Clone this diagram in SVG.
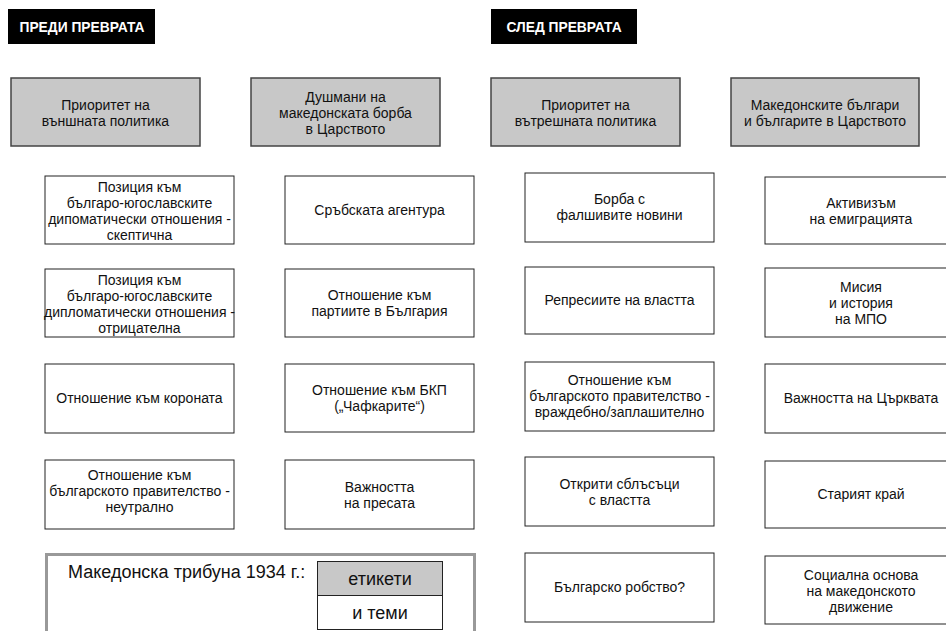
<svg xmlns="http://www.w3.org/2000/svg" width="946" height="631" viewBox="0 0 946 631">
<style>
text{font-family:"Liberation Sans",Arial,sans-serif;fill:#111;text-anchor:middle}
.hd rect{fill:#000}
.hd text{fill:#fff;font-weight:bold;font-size:13.8px}
.cat rect{fill:#c8c8c8;stroke:#444;stroke-width:1.5}
.cat text{font-size:14px}
.item rect{fill:#fff;stroke:#222;stroke-width:1}
.item text{font-size:14px}
.leg{font-size:18px}
</style>
<rect width="946" height="631" fill="#fff"/>
<g id="hdr-before" class="hd"><rect x="8" y="9" width="147" height="35"/><text x="82" y="32">ПРЕДИ ПРЕВРАТА</text></g>
<g id="hdr-after" class="hd"><rect x="491" y="9" width="146" height="35"/><text x="564" y="32">СЛЕД ПРЕВРАТА</text></g>

<g id="cat-foreign" class="cat"><rect x="11" y="78" width="189" height="68"/><text x="105.5" y="110">Приоритет на</text><text x="105.5" y="126">външната политика</text></g>
<g id="cat-enemies" class="cat"><rect x="251" y="78" width="189" height="68"/><text x="345.5" y="102">Душмани на</text><text x="345.5" y="118">македонската борба</text><text x="345.5" y="134">в Царството</text></g>
<g id="cat-domestic" class="cat"><rect x="491" y="78" width="189" height="68"/><text x="585.5" y="110">Приоритет на</text><text x="585.5" y="126">вътрешната политика</text></g>
<g id="cat-bulgarians" class="cat"><rect x="731" y="78" width="188" height="68"/><text x="825" y="110">Македонските българи</text><text x="825" y="126">и българите в Царството</text></g>

<g id="c1-1" class="item"><rect x="45" y="176" width="189" height="68"/><text x="139.5" y="192">Позиция към</text><text x="139.5" y="208">българо-югославските</text><text x="139.5" y="224">дипоматически отношения -</text><text x="139.5" y="240">скептична</text></g>
<g id="c1-2" class="item"><rect x="45" y="269" width="189" height="68"/><text x="139.5" y="285">Позиция към</text><text x="139.5" y="301">българо-югославските</text><text x="139.5" y="317">дипломатически отношения -</text><text x="139.5" y="333">отрицателна</text></g>
<g id="c1-3" class="item"><rect x="45" y="364" width="189" height="69"/><text x="139.5" y="403">Отношение към короната</text></g>
<g id="c1-4" class="item"><rect x="45" y="460" width="189" height="69"/><text x="139.5" y="480">Отношение към</text><text x="139.5" y="496">българското правителство -</text><text x="139.5" y="512">неутрално</text></g>

<g id="c2-1" class="item"><rect x="285" y="176" width="189" height="68"/><text x="379.5" y="215">Сръбската агентура</text></g>
<g id="c2-2" class="item"><rect x="285" y="269" width="189" height="68"/><text x="379.5" y="300">Отношение към</text><text x="379.5" y="316">партиите в България</text></g>
<g id="c2-3" class="item"><rect x="285" y="364" width="189" height="68"/><text x="379.5" y="395">Отношение към БКП</text><text x="379.5" y="411">(„Чафкарите“)</text></g>
<g id="c2-4" class="item"><rect x="285" y="460" width="189" height="69"/><text x="379.5" y="492">Важността</text><text x="379.5" y="508">на пресата</text></g>

<g id="c3-1" class="item"><rect x="525" y="173" width="189" height="69"/><text x="619.5" y="204">Борба с</text><text x="619.5" y="220">фалшивите новини</text></g>
<g id="c3-2" class="item"><rect x="525" y="267" width="189" height="67"/><text x="619.5" y="305">Репресиите на властта</text></g>
<g id="c3-3" class="item"><rect x="525" y="362" width="189" height="69"/><text x="619.5" y="385">Отношение към</text><text x="619.5" y="401">българското правителство -</text><text x="619.5" y="417">враждебно/заплашително</text></g>
<g id="c3-4" class="item"><rect x="525" y="457" width="189" height="69"/><text x="619.5" y="489">Открити сблъсъци</text><text x="619.5" y="505">с властта</text></g>
<g id="c3-5" class="item"><rect x="525" y="553" width="189" height="69"/><text x="619.5" y="592">Българско робство?</text></g>

<g id="c4-1" class="item"><rect x="765" y="177" width="189" height="67"/><text x="861" y="208">Активизъм</text><text x="861" y="224">на емиграцията</text></g>
<g id="c4-2" class="item"><rect x="765" y="268" width="189" height="69"/><text x="861" y="292">Мисия</text><text x="861" y="308">и история</text><text x="861" y="324">на МПО</text></g>
<g id="c4-3" class="item"><rect x="765" y="364" width="189" height="69"/><text x="861" y="403">Важността на Църквата</text></g>
<g id="c4-4" class="item"><rect x="765" y="461" width="189" height="67"/><text x="861" y="499">Старият край</text></g>
<g id="c4-5" class="item"><rect x="765" y="556" width="189" height="68"/><text x="861" y="580">Социална основа</text><text x="861" y="596">на македонското</text><text x="861" y="612">движение</text></g>

<g id="legend">
<rect x="46.5" y="554.5" width="428" height="90" fill="#fff" stroke="#999" stroke-width="3"/>
<text class="leg" x="68" y="578" style="text-anchor:start">Македонска трибуна 1934 г.:</text>
<rect x="317.5" y="561.5" width="125" height="34" fill="#c8c8c8" stroke="#222"/>
<rect x="317.5" y="595.5" width="125" height="34" fill="#fff" stroke="#222"/>
<text class="leg" x="380" y="585">етикети</text>
<text class="leg" x="380" y="619">и теми</text>
</g>
<g id="connectors"/>
</svg>
